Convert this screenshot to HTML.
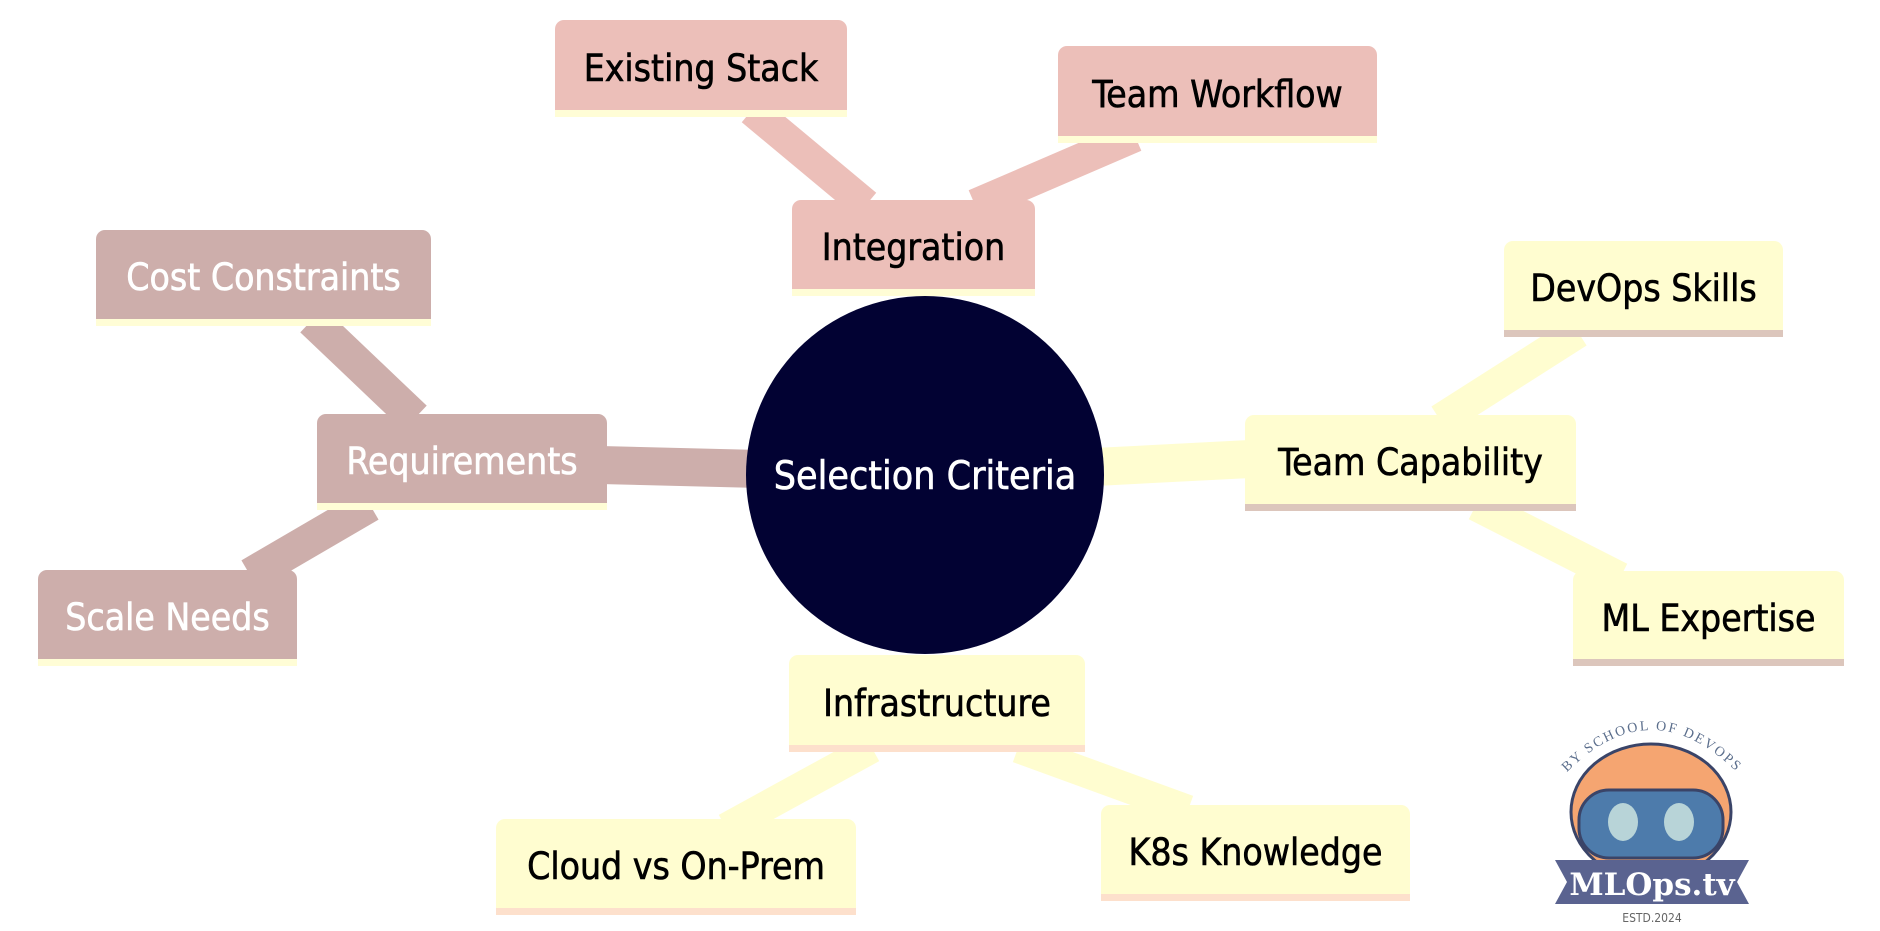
<!DOCTYPE html>
<html><head><meta charset="utf-8"><style>
body{margin:0;width:1880px;height:931px;background:#fff;position:relative;overflow:hidden;font-family:"DejaVu Sans Condensed","Liberation Sans",sans-serif;}
.n{position:absolute;box-sizing:border-box;border-radius:9px 9px 0 0;display:flex;align-items:center;justify-content:center;font-size:37px;color:#000;padding-top:6px;-webkit-text-stroke:0.6px currentColor;}
.p{background:#ecbfb9;border-bottom:7px solid #fffdd6;}
.r{background:#cdaeab;border-bottom:7px solid #fffdd6;color:#fff;}
.y{background:#fffdd0;border-bottom:7px solid #dcc6bc;}
.yi{background:#fffdd0;border-bottom:7px solid #fde0cc;}
svg{position:absolute;left:0;top:0}
</style></head><body>
<svg width="1880" height="931">
<g stroke-linecap="butt">
<line x1="752" y1="110" x2="866" y2="205" stroke="#ecbfb9" stroke-width="32"/>
<line x1="1135" y1="136" x2="975" y2="205" stroke="#ecbfb9" stroke-width="32"/>
<line x1="312" y1="320" x2="415" y2="418" stroke="#cdaeab" stroke-width="34"/>
<line x1="370" y1="505" x2="250" y2="575" stroke="#cdaeab" stroke-width="34"/>
<line x1="600" y1="465" x2="760" y2="469" stroke="#cdaeab" stroke-width="38"/>
<line x1="1095" y1="467" x2="1250" y2="459" stroke="#fffdd0" stroke-width="38"/>
<line x1="1578" y1="332" x2="1440" y2="420" stroke="#fffdd0" stroke-width="32"/>
<line x1="1476" y1="505" x2="1620" y2="578" stroke="#fffdd0" stroke-width="32"/>
<line x1="872" y1="748" x2="726" y2="828" stroke="#fffdd0" stroke-width="30"/>
<line x1="1018" y1="748" x2="1188" y2="810" stroke="#fffdd0" stroke-width="30"/>
</g>
<circle cx="925" cy="475" r="179" fill="#020233"/>
<text x="925" y="489" fill="#fff" font-size="39" text-anchor="middle" stroke="#fff" stroke-width="0.6" font-family="DejaVu Sans Condensed, Liberation Sans, sans-serif">Selection Criteria</text>
<!-- logo -->
<g transform="translate(1553,700)">
<path id="arc" d="M2 85 Q98 -25 196 85" fill="none"/>
<text font-size="14" fill="#5b6e8c" letter-spacing="2" font-family="Liberation Serif, serif"><textPath href="#arc" startOffset="50%" text-anchor="middle">BY SCHOOL OF DEVOPS</textPath></text>
<ellipse cx="98" cy="112" rx="80" ry="68" fill="#f5a571" stroke="#3a4468" stroke-width="3"/>
<rect x="26" y="90" width="144" height="68" rx="30" fill="#4d7bab" stroke="#3a4468" stroke-width="3"/>
<ellipse cx="70" cy="122" rx="15" ry="19" fill="#b8d4d8"/>
<ellipse cx="126" cy="122" rx="15" ry="19" fill="#b8d4d8"/>
<path d="M2 160 L196 160 L184 182 L196 204 L2 204 L14 182 Z" fill="#5a6390"/>
<text x="99" y="195" font-size="31" font-weight="bold" fill="#fff" text-anchor="middle" font-family="DejaVu Serif, serif">MLOps.tv</text>
<text x="99" y="222" font-size="12" fill="#666" text-anchor="middle">ESTD.2024</text>
</g>
</svg>
<div class="n p" style="left:555px;top:20px;width:292px;height:97px">Existing Stack</div>
<div class="n p" style="left:1058px;top:46px;width:319px;height:97px">Team Workflow</div>
<div class="n p" style="left:792px;top:200px;width:243px;height:96px">Integration</div>
<div class="n r" style="left:96px;top:230px;width:335px;height:96px">Cost Constraints</div>
<div class="n r" style="left:317px;top:414px;width:290px;height:96px">Requirements</div>
<div class="n r" style="left:38px;top:570px;width:259px;height:96px">Scale Needs</div>
<div class="n y" style="left:1245px;top:415px;width:331px;height:96px">Team Capability</div>
<div class="n y" style="left:1504px;top:241px;width:279px;height:96px">DevOps Skills</div>
<div class="n y" style="left:1573px;top:571px;width:271px;height:95px">ML Expertise</div>
<div class="n yi" style="left:789px;top:655px;width:296px;height:97px">Infrastructure</div>
<div class="n yi" style="left:496px;top:819px;width:360px;height:96px">Cloud vs On-Prem</div>
<div class="n yi" style="left:1101px;top:805px;width:309px;height:96px">K8s Knowledge</div>
</body></html>
